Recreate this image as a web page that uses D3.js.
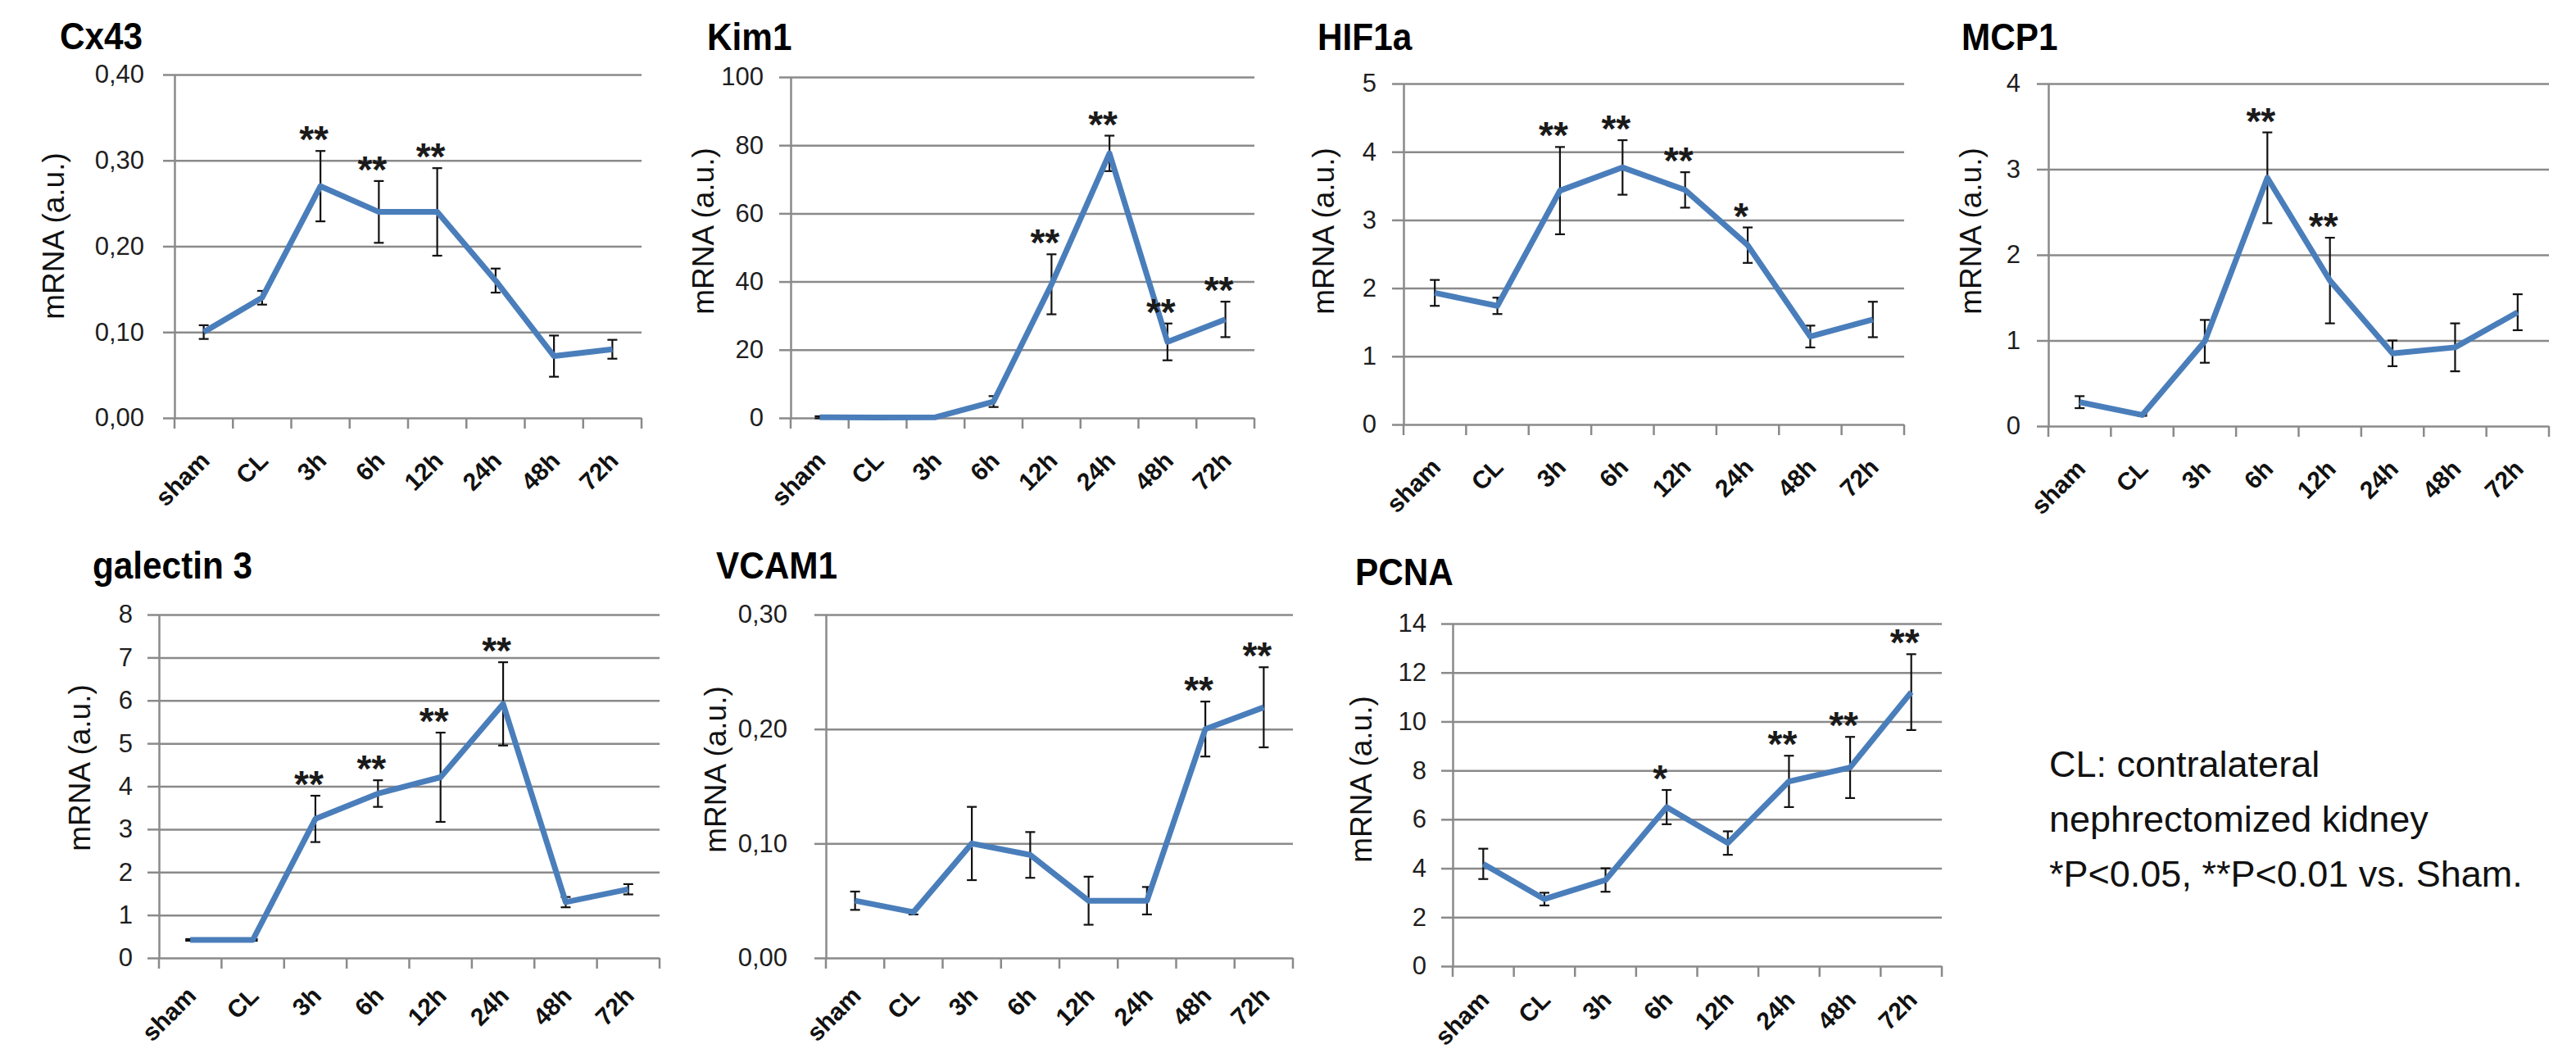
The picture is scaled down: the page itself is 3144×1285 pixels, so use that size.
<!DOCTYPE html>
<html>
<head>
<meta charset="utf-8">
<script src="https://cdn.jsdelivr.net/npm/d3@7/dist/d3.min.js"></script>
<style>
  body { margin: 0; background: #fff; }
  svg text { font-family: "Liberation Sans", Arial, sans-serif; }
</style>
</head>
<body>
<svg id="chart" width="3144" height="1285"></svg>
<script>
// категории по оси x (общие для всех графиков)
const categories = [`sham`, `CL`, `3h`, `6h`, `12h`, `24h`, `48h`, `72h`];

const cx43Mean = [0.10, 0.14, 0.27, 0.24, 0.24, 0.16, 0.072, 0.08];
const cx43Err  = [0.008, 0.008, 0.041, 0.036, 0.051, 0.014, 0.024, 0.011];
const cx43Sig  = [``, ``, `**`, `**`, `**`, ``, ``, ``];
const cx43Ticks = [0, 0.1, 0.2, 0.3, 0.4];

const kim1Mean = [0.2, 0.1, 0.2, 4.8, 39.2, 77.6, 22.3, 28.9];
const kim1Err  = [0.3, 0, 0, 1.6, 8.8, 5.2, 5.4, 5.2];
const kim1Sig  = [``, ``, ``, ``, `**`, `**`, `**`, `**`];
const kim1Ticks = [0, 20, 40, 60, 80, 100];

const hif1aMean = [1.93, 1.74, 3.43, 3.77, 3.44, 2.63, 1.29, 1.54];
const hif1aErr  = [0.19, 0.12, 0.64, 0.40, 0.26, 0.26, 0.16, 0.26];
const hif1aSig  = [``, ``, `**`, `**`, `**`, `*`, ``, ``];
const hif1aTicks = [0, 1, 2, 3, 4, 5];

const mcp1Mean = [0.28, 0.13, 0.99, 2.90, 1.70, 0.85, 0.92, 1.33];
const mcp1Err  = [0.07, 0.01, 0.25, 0.53, 0.50, 0.15, 0.28, 0.21];
const mcp1Sig  = [``, ``, ``, `**`, `**`, ``, ``, ``];
const mcp1Ticks = [0, 1, 2, 3, 4];

const gal3Mean = [0.42, 0.42, 3.24, 3.83, 4.21, 5.92, 1.30, 1.60];
const gal3Err  = [0.02, 0.02, 0.54, 0.31, 1.04, 0.97, 0.12, 0.12];
const gal3Sig  = [``, ``, `**`, `**`, `**`, `**`, ``, ``];
const gal3Ticks = [0, 1, 2, 3, 4, 5, 6, 7, 8];

const vcam1Mean = [0.050, 0.040, 0.100, 0.090, 0.050, 0.050, 0.200, 0.219];
const vcam1Err  = [0.008, 0.002, 0.032, 0.020, 0.021, 0.012, 0.024, 0.035];
const vcam1Sig  = [``, ``, ``, ``, ``, ``, `**`, `**`];
const vcam1Ticks = [0, 0.1, 0.2, 0.3];

const pcnaMean = [4.18, 2.74, 3.52, 6.50, 5.03, 7.55, 8.12, 11.2];
const pcnaErr  = [0.62, 0.26, 0.48, 0.70, 0.48, 1.05, 1.25, 1.55];
const pcnaSig  = [``, ``, ``, `*`, ``, `**`, `**`, `**`];
const pcnaTicks = [0, 2, 4, 6, 8, 10, 12, 14];

const noteLines = [`CL: contralateral`, `nephrectomized kidney`, `*P<0.05, **P<0.01 vs. Sham.`];

const commaFmt = d => d3.format(`.2f`)(d).replace(`.`, `,`);
const intFmt = d3.format(`d`);

// расположение панелей
const panels = [
  {title: `Cx43`, mean: cx43Mean, err: cx43Err, sig: cx43Sig, ticks: cx43Ticks, fmt: commaFmt,
    x0: 213, x1: 783, y0: 91, y1: 510, pad: 23, tx: 73, ty: 60, lx: 65, ly: 288, xl: 54},
  {title: `Kim1`, mean: kim1Mean, err: kim1Err, sig: kim1Sig, ticks: kim1Ticks, fmt: intFmt,
    x0: 965, x1: 1531, y0: 94, y1: 510, pad: 19, tx: 863, ty: 61, lx: 858, ly: 282, xl: 54},
  {title: `HIF1a`, mean: hif1aMean, err: hif1aErr, sig: hif1aSig, ticks: hif1aTicks, fmt: intFmt,
    x0: 1713, x1: 2324, y0: 102, y1: 518, pad: 19, tx: 1608, ty: 61, lx: 1615, ly: 282, xl: 54},
  {title: `MCP1`, mean: mcp1Mean, err: mcp1Err, sig: mcp1Sig, ticks: mcp1Ticks, fmt: intFmt,
    x0: 2500, x1: 3111, y0: 102, y1: 520, pad: 20, tx: 2394, ty: 61, lx: 2405, ly: 282, xl: 54},
  {title: `galectin 3`, mean: gal3Mean, err: gal3Err, sig: gal3Sig, ticks: gal3Ticks, fmt: intFmt,
    x0: 194, x1: 805, y0: 750, y1: 1169, pad: 18, tx: 113, ty: 706, lx: 97, ly: 937, xl: 48},
  {title: `VCAM1`, mean: vcam1Mean, err: vcam1Err, sig: vcam1Sig, ticks: vcam1Ticks, fmt: commaFmt,
    x0: 1008, x1: 1578, y0: 750, y1: 1169, pad: 33, tx: 874, ty: 706, lx: 873, ly: 939, xl: 48},
  {title: `PCNA`, mean: pcnaMean, err: pcnaErr, sig: pcnaSig, ticks: pcnaTicks, fmt: intFmt,
    x0: 1773, x1: 2370, y0: 761, y1: 1179, pad: 18, tx: 1654, ty: 714, lx: 1661, ly: 951, xl: 43}
];

const lineColor = `#4a7ebb`,
  gridColor = `#8a8a8a`;

const svg = d3.select(`#chart`);
svg.append(`rect`).attr(`width`, 3144).attr(`height`, 1285).attr(`fill`, `#fff`);

panels.forEach(p => {
  const g = svg.append(`g`);
  const x = d3.scaleBand().domain(categories).range([p.x0, p.x1]).padding(0);
  const y = d3.scaleLinear().domain([0, d3.max(p.ticks)]).range([p.y1, p.y0]);
  const cx = d => x(d) + x.bandwidth() / 2;

  // сетка
  g.append(`g`)
    .attr(`transform`, `translate(${p.x0},0)`)
    .call(d3.axisLeft(y).tickValues(p.ticks).tickSize(-(p.x1 - p.x0)).tickFormat(``))
    .call(s => s.select(`.domain`).remove())
    .selectAll(`line`).attr(`stroke`, gridColor).attr(`stroke-width`, 2.5);

  // ось y с подписями
  const ya = g.append(`g`)
    .attr(`transform`, `translate(${p.x0},0)`)
    .call(d3.axisLeft(y).tickValues(p.ticks).tickSizeInner(14).tickSizeOuter(0)
      .tickPadding(p.pad).tickFormat(p.fmt));
  ya.select(`.domain`).attr(`stroke`, gridColor).attr(`stroke-width`, 2.5);
  ya.selectAll(`line`).attr(`stroke`, gridColor).attr(`stroke-width`, 2.5);
  ya.selectAll(`text`)
    .attr(`fill`, `#1e1e1e`)
    .style(`font-size`, `31px`)
    .style(`font-family`, `"Liberation Sans", Arial, sans-serif`);

  // засечки оси x на границах категорий
  const bounds = categories.map(d => x(d)).concat([x.range()[1]]);
  g.selectAll(`.xtick`).data(bounds).enter().append(`line`)
    .attr(`x1`, d => d).attr(`x2`, d => d)
    .attr(`y1`, p.y1).attr(`y2`, p.y1 + 13)
    .attr(`stroke`, gridColor).attr(`stroke-width`, 2.5);

  // подписи категорий
  g.selectAll(`.xlab`).data(categories).enter().append(`text`)
    .attr(`transform`, d => `translate(${cx(d) + 9},${p.y1 + p.xl}) rotate(-45)`)
    .attr(`text-anchor`, `end`)
    .attr(`fill`, `#111`)
    .style(`font-size`, `30px`)
    .style(`font-weight`, `bold`)
    .text(d => d);

  const rows = categories.map((c, i) => ({c: c, m: p.mean[i], e: p.err[i], s: p.sig[i]}));

  // планки погрешностей
  const eb = g.selectAll(`.err`).data(rows).enter().append(`g`)
    .attr(`stroke`, `#111`).attr(`stroke-width`, 2.2);
  eb.append(`line`)
    .attr(`x1`, d => cx(d.c)).attr(`x2`, d => cx(d.c))
    .attr(`y1`, d => y(d.m - d.e)).attr(`y2`, d => y(d.m + d.e));
  eb.append(`line`)
    .attr(`x1`, d => cx(d.c) - 6).attr(`x2`, d => cx(d.c) + 6)
    .attr(`y1`, d => y(d.m + d.e)).attr(`y2`, d => y(d.m + d.e));
  eb.append(`line`)
    .attr(`x1`, d => cx(d.c) - 6).attr(`x2`, d => cx(d.c) + 6)
    .attr(`y1`, d => y(d.m - d.e)).attr(`y2`, d => y(d.m - d.e));

  // линия средних
  const line = d3.line().x(d => cx(d.c)).y(d => y(d.m));
  g.append(`path`).datum(rows)
    .attr(`d`, line)
    .attr(`fill`, `none`)
    .attr(`stroke`, lineColor)
    .attr(`stroke-width`, 7)
    .attr(`stroke-linejoin`, `round`);

  // звездочки значимости
  g.selectAll(`.sig`).data(rows.filter(d => d.s)).enter().append(`text`)
    .attr(`x`, d => cx(d.c) - 8)
    .attr(`y`, d => y(d.m + d.e) + 2)
    .attr(`text-anchor`, `middle`)
    .attr(`fill`, `#1a1a1a`)
    .style(`font-size`, `46px`)
    .style(`font-weight`, `bold`)
    .text(d => d.s);

  // заголовок и подпись оси
  g.append(`text`)
    .attr(`transform`, `translate(${p.tx},${p.ty}) scale(0.9,1)`)
    .attr(`fill`, `#000`)
    .style(`font-size`, `47px`).style(`font-weight`, `bold`)
    .text(p.title);

  g.append(`text`)
    .attr(`transform`, `translate(${p.lx},${p.ly}) rotate(-90)`)
    .attr(`text-anchor`, `middle`)
    .attr(`dy`, `0.35em`)
    .attr(`fill`, `#111`)
    .style(`font-size`, `37px`)
    .text(`mRNA (a.u.)`);
});

// примечание справа
svg.selectAll(`.note`).data(noteLines).enter().append(`text`)
  .attr(`x`, 2501)
  .attr(`y`, (d, i) => 948 + i * 67)
  .attr(`fill`, `#111`)
  .style(`font-size`, `45px`)
  .text(d => d);
</script>
</body>
</html>
